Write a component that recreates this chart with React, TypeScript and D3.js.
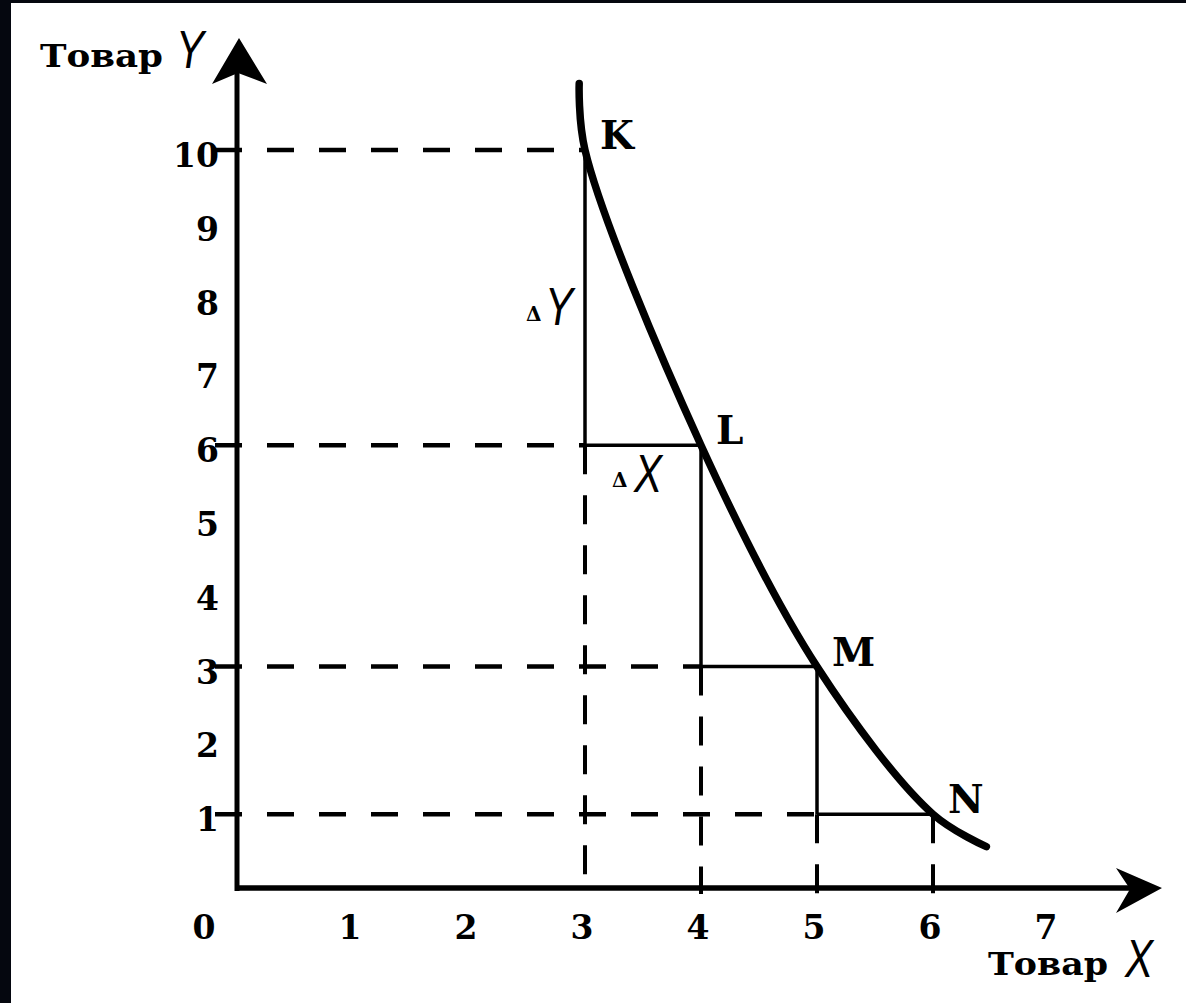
import * as d3 from "d3";
import React from "react";

const width = 1186;
const height = 1003;

const xTicks = [1, 2, 3, 4, 5, 6, 7];
const yTicks = [1, 2, 3, 4, 5, 6, 7, 8, 9, 10];
const pointNames = ["K", "L", "M", "N"];
const pointX = [3, 4, 5, 6];
const pointY = [10, 6, 3, 1];
// indifference curve: K..N plus the two loose ends of the scan
const curveX = [2.95, 3, 4, 5, 6, 6.46];
const curveY = [10.9, 10, 6, 3, 1, 0.56];

const x = d3.scaleLinear().domain([0, 7]).range([237, 237 + 7 * 116]);
const y = d3.scaleLinear().domain([0, 10]).range([888, 150]);

const serif = "'DejaVu Serif', serif";
const italic = "'Liberation Sans', sans-serif";

const curveLine = d3
  .line<number>()
  .x((d) => x(curveX[d]))
  .y((d) => y(curveY[d]))
  .curve(d3.curveCatmullRom.alpha(0.5));

// narrow italic capital like in the book scan
const BigLetter = ({ cx, cy, ch }: { cx: number; cy: number; ch: string }) => (
  <text
    transform={`translate(${cx},${cy}) scale(0.78,1)`}
    fontFamily={italic}
    fontStyle="italic"
    fontSize={54}
    fill="#000"
  >
    {ch}
  </text>
);

const App = () => {
  const pts = pointX.map((px, i) => ({ name: pointNames[i], x: px, y: pointY[i] }));
  return (
    <svg
      width={width}
      height={height}
      style={{ position: "absolute", left: 0, top: 0 }}
    >
      <rect width={width} height={height} fill="#ffffff" />
      <rect width={11} height={height} fill="#05070f" />
      <rect width={width} height={3} fill="#05070f" />

      {/* dashed guides */}
      {pts.map((p, i) => {
        const toX = i === 0 ? p.x : pts[i - 1].x;
        return (
          <line
            key={"h" + i}
            x1={x(0) - 22}
            x2={x(toX)}
            y1={y(p.y)}
            y2={y(p.y)}
            stroke="#000"
            strokeWidth={4.5}
            strokeDasharray="27 25"
          />
        );
      })}
      {pts.map((p, i) => {
        const toY = i < pts.length - 1 ? pts[i + 1].y : p.y;
        return (
          <line
            key={"v" + i}
            x1={x(p.x)}
            x2={x(p.x)}
            y1={y(toY)}
            y2={y(0) + 6}
            stroke="#000"
            strokeWidth={4}
            strokeDasharray="29 21"
          />
        );
      })}

      {/* solid steps */}
      {pts.slice(0, -1).map((p, i) => {
        const n = pts[i + 1];
        return (
          <g key={"s" + i} stroke="#000" strokeWidth={3.5}>
            <line x1={x(p.x)} x2={x(p.x)} y1={y(p.y)} y2={y(n.y)} />
            <line x1={x(p.x)} x2={x(n.x)} y1={y(n.y)} y2={y(n.y)} />
          </g>
        );
      })}

      {/* axes */}
      <line x1={x(0)} x2={x(0)} y1={y(0) + 3} y2={70} stroke="#000" strokeWidth={5} />
      <path d={`M${x(0) + 2},38 L${x(0) - 25},84 L${x(0) + 1},73 L${x(0) + 30},84 Z`} fill="#000" />
      <line x1={x(0) - 2} x2={1132} y1={y(0)} y2={y(0)} stroke="#000" strokeWidth={5.5} />
      <path d={`M1162,${y(0)} L1116,${y(0) - 20} L1130,${y(0) + 1} L1116,${y(0) + 25} Z`} fill="#000" />

      {/* curve */}
      <path
        d={curveLine(d3.range(curveX.length)) ?? ""}
        fill="none"
        stroke="#000"
        strokeWidth={7.5}
        strokeLinecap="round"
      />

      {/* tick labels */}
      <g fontFamily={serif} fontWeight="bold" fontSize={33} fill="#000">
        {yTicks.map((t) => (
          <text key={t} x={219} y={y(t) + 17} textAnchor="end">
            {t}
          </text>
        ))}
        {xTicks.map((t) => (
          <text key={t} x={x(t) - 3} y={939} textAnchor="middle">
            {t}
          </text>
        ))}
        <text x={204} y={939} textAnchor="middle">0</text>
      </g>

      {/* point labels */}
      <g fontFamily={serif} fontWeight="bold" fontSize={39} fill="#000">
        {pts.map((p) => (
          <text key={p.name} x={x(p.x) + 15} y={y(p.y) - 1}>
            {p.name}
          </text>
        ))}
      </g>

      {/* delta labels */}
      <g fill="#000" fontFamily={serif} fontWeight="bold" fontSize={20}>
        <text x={526} y={321}>Δ</text>
        <text x={612} y={487}>Δ</text>
      </g>
      <BigLetter cx={545} cy={325} ch="Y" />
      <BigLetter cx={634} cy={492} ch="X" />

      {/* axis titles */}
      <g fill="#000" fontFamily={serif} fontWeight="bold" fontSize={31}>
        <text x={40} y={67} textLength={123} lengthAdjust="spacingAndGlyphs">Товар</text>
        <text x={988} y={975} textLength={120} lengthAdjust="spacingAndGlyphs">Товар</text>
      </g>
      <BigLetter cx={176} cy={68} ch="Y" />
      <BigLetter cx={1125} cy={977} ch="X" />
    </svg>
  );
};

export default App;
